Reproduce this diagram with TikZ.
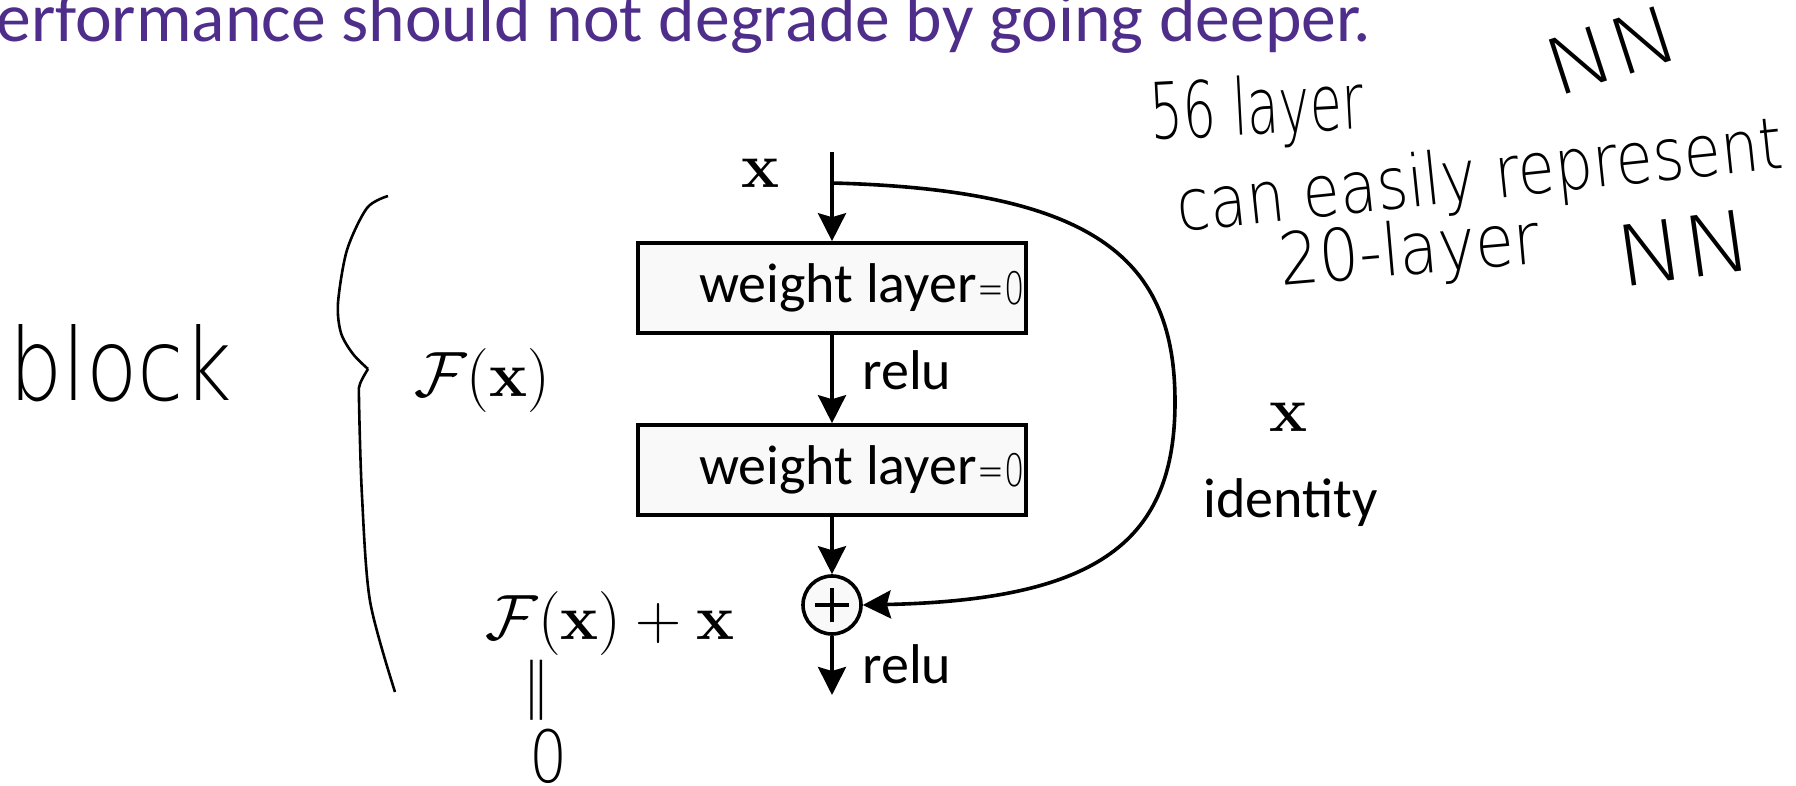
\RequirePackage{fix-cm}
\documentclass[tikz,border=0pt]{standalone}
\usepackage{amsmath}
\usepackage[no-math]{fontspec}
\setmainfont{Carlito}
\newfontfamily\handfont{DejaVu Sans ExtraLight}
\usepackage{xcolor}
\usetikzlibrary{arrows.meta}
\definecolor{slidepurple}{RGB}{78,46,138}

\begin{document}
\begin{tikzpicture}[x=0.5pt,y=-0.5pt,>={Stealth[length=14pt,width=14pt,inset=2pt]},
  wbox/.style={draw,line width=1.8pt,fill=gray!5,minimum width=194pt,minimum height=45pt,inner sep=0pt,font=\fontsize{28}{30}\selectfont},
  lbl/.style={inner sep=0pt,font=\fontsize{28}{30}\selectfont},
  mth/.style={inner sep=0pt,font=\fontsize{32}{36}\selectfont},
  hand/.style={inner sep=0pt,font=\handfont\fontsize{30}{32}\selectfont},
  conn/.style={line width=1.8pt}]
  \useasboundingbox (0,0) rectangle (1796,786);
  \clip (0,0) rectangle (1796,786);
  \node[anchor=base west,inner sep=0pt,text=slidepurple,font=\fontsize{34.8}{36}\selectfont] (title) at (-4,42) {erformance should not degrade by going deeper.};
  % block
  \coordinate (in) at (832,152);
  \coordinate (split) at (832,183);
  \coordinate (far) at (1175,402);
  \coordinate (out) at (832,695);
  \node[wbox] (w1) at (832,288) {\hspace*{6pt}weight layer};
  \node[wbox] (w2) at (832,470) {\hspace*{6pt}weight layer};
  \node[circle,draw,line width=1.8pt,fill=gray!5,minimum size=29pt,inner sep=0pt] (add) at (832,605) {};
  \draw[line width=1.7pt] ([xshift=-8.5pt]add.center) -- ([xshift=8.5pt]add.center);
  \draw[line width=1.7pt] ([yshift=-8.5pt]add.center) -- ([yshift=8.5pt]add.center);
  \draw[conn,->] (in) -- (w1);
  \draw[conn,->] (w1) -- (w2);
  \draw[conn,->] (w2) -- (add);
  \draw[conn,->] (add) -- (out);
  \draw[conn,->] (split) .. controls (1100,190) and (1175,262) .. (far) .. controls (1175,540) and (1100,600) .. (add.east);
  \node[mth] (xin) at (760,173) {$\mathbf{x}$};
  \node[lbl,anchor=base west] (relu1) at (862,390) {relu};
  \node[lbl,anchor=base west] (relu2) at (862,683) {relu};
  \node[mth] (fx) at (482,381) {$\mathcal{F}(\mathbf{x})$};
  \node[mth] (fxx) at (610,624) {$\mathcal{F}(\mathbf{x}) + \mathbf{x}$};
  \node[mth] (xid) at (1288,417) {$\mathbf{x}$};
  \node[lbl,anchor=base west] (idlab) at (1203,517) {identity};
  % notes
  \node[hand,font=\handfont\fontsize{16}{18}\selectfont,anchor=east] (eq1) at ([xshift=-1.5pt]w1.east) {\scalebox{1}[1.4]{=0}};
  \node[hand,font=\handfont\fontsize{16}{18}\selectfont,anchor=east] (eq2) at ([xshift=-1.5pt]w2.east) {\scalebox{1}[1.4]{=0}};
  \node[hand,font=\handfont\fontsize{40}{42}\selectfont] (blk) at (121,363) {\scalebox{1.05}[1.25]{block}};
  \draw[line width=1.3pt] plot[smooth] coordinates {(388,196) (367,208) (347,250) (338,303) (341,333) (353,354) (368,369)};
  \draw[line width=1.3pt] plot[smooth] coordinates {(368,369) (360,384) (359,400) (362,496) (370,601) (395,692)};
  \node[hand,rotate=90] (eqz) at (543,690) {\scalebox{1.6}[1]{=}};
  \node[hand] (zero) at (549,756) {\scalebox{1}[1.2]{0}};
  \node[hand,font=\handfont\fontsize{26}{28}\selectfont,rotate=3] (hl1) at (1257,112) {\scalebox{1}[1.5]{56 layer}};
  \node[hand,font=\handfont\fontsize{30}{32}\selectfont,rotate=18] (hnn1) at (1612,50) {\scalebox{1.5}[1.3]{NN}};
  \node[hand,rotate=6] (hl2) at (1480,180) {\scalebox{1}[1.2]{can easily represent}};
  \node[hand,rotate=5] (hl3) at (1410,254) {\scalebox{1.05}[1.2]{20-layer}};
  \node[hand,rotate=8] (hnn2) at (1684,248) {\scalebox{1.5}[1.4]{NN}};
\end{tikzpicture}
\end{document}
